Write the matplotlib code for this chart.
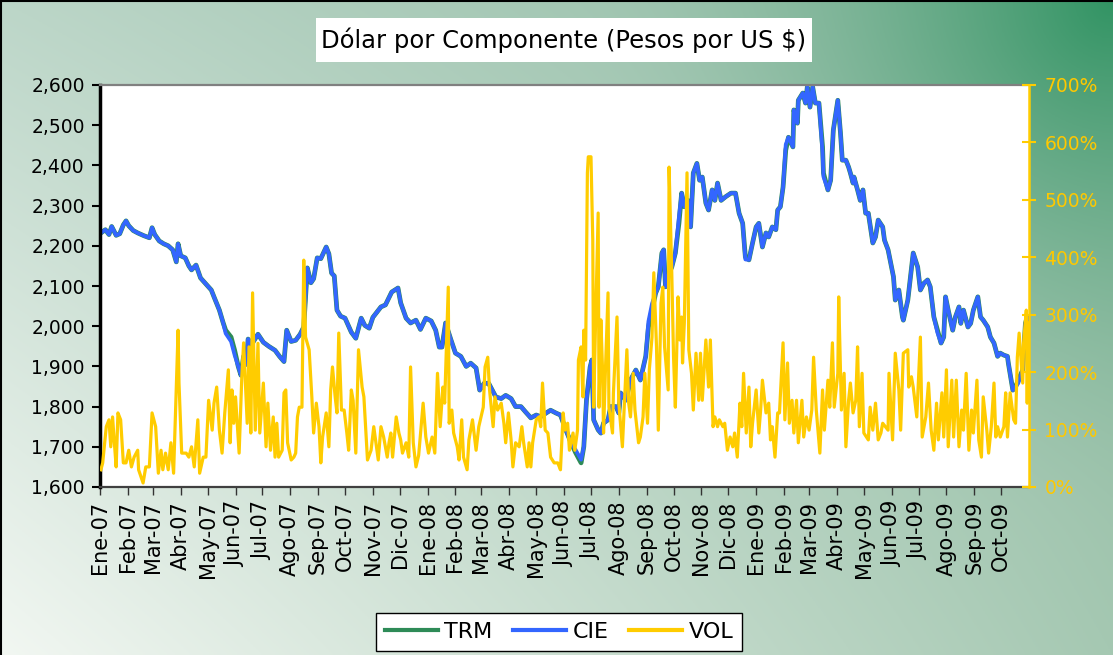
import numpy as np
import pandas as pd
import matplotlib
matplotlib.use("Agg")
import matplotlib.pyplot as plt
from matplotlib.ticker import FuncFormatter, MultipleLocator
from matplotlib.patches import Rectangle
from matplotlib.lines import Line2D

# ---------------- data ----------------
title = "Dólar por Componente (Pesos por US $)"
start_date = "2007-01-01"
end_date = "2009-11-01"
series_names = ["TRM", "CIE", "VOL"]

month_labels = ["Ene-07", "Feb-07", "Mar-07", "Abr-07", "May-07", "Jun-07", "Jul-07", "Ago-07",
                "Sep-07", "Oct-07", "Nov-07", "Dic-07", "Ene-08", "Feb-08", "Mar-08", "Abr-08",
                "May-08", "Jun-08", "Jul-08", "Ago-08", "Sep-08", "Oct-08", "Nov-08", "Dic-08",
                "Ene-09", "Feb-09", "Mar-09", "Abr-09", "May-09", "Jun-09", "Jul-09", "Ago-09",
                "Sep-09", "Oct-09"]

# days since 2007-01-01
trm_day = [1,6,10,13,18,22,26,29,32,37,42,49,55,58,61,66,71,76,81,85,
           87,90,95,99,102,107,112,118,124,127,133,137,140,146,150,154,157,160,163,165,
           169,176,182,188,195,200,205,208,213,218,223,227,231,235,238,242,246,252,255,258,
           261,264,268,273,280,285,291,295,300,304,313,318,325,332,335,341,346,352,357,363,
           369,374,378,381,385,391,396,402,408,413,419,423,428,433,441,447,452,458,463,469,
           474,480,486,491,497,502,508,513,519,525,530,536,539,542,546,548,550,555,558,561,
           566,569,575,578,580,586,591,597,602,608,611,615,619,622,626,628,630,634,637,641,
           645,648,651,655,658,661,665,668,671,675,678,682,685,688,692,697,703,708,712,716,
           719,723,727,731,734,738,742,745,749,753,755,758,761,764,767,772,773,777,778,783,
           786,788,791,794,797,801,805,806,811,814,817,822,825,827,831,834,836,839,840,844,
           847,850,853,856,861,864,867,872,874,878,884,886,890,894,895,900,903,906,911,914,
           918,922,925,929,933,937,940,942,945,950,953,957,959,962,967,970,973,978,981,984,
           989,992,996,1000,1003,1007,1011,1012,1017,1020,1023,1028,1031,1033,1034]

trm = [2232,2240,2228,2248,2226,2230,2252,2262,2250,2238,
       2232,2225,2220,2245,2228,2212,2205,2200,2190,2160,
       2205,2175,2170,2150,2140,2152,2120,2105,2090,2073,
       2040,2010,1990,1973,1940,1900,1878,1925,1905,1968,
       1955,1980,1960,1950,1940,1925,1912,1990,1962,1965,
       1980,1998,2145,2108,2118,2170,2168,2197,2180,2132,
       2125,2040,2025,2020,1985,1970,2020,2002,1995,2022,
       2048,2053,2085,2095,2058,2020,2008,2015,1992,2020,
       2013,1990,1948,1948,2008,1966,1933,1925,1900,1908,
       1896,1841,1858,1858,1824,1820,1828,1820,1800,1800,
       1787,1772,1779,1775,1784,1791,1784,1779,1742,1709,
       1685,1660,1700,1816,1898,1916,1767,1742,1734,1759,
       1767,1800,1800,1784,1834,1816,1866,1891,1866,1925,
       1998,2040,2082,2098,2182,2190,2098,2132,2147,2182,
       2256,2331,2297,2313,2247,2381,2405,2363,2371,2306,
       2289,2339,2313,2356,2313,2322,2331,2331,2281,2256,
       2172,2165,2207,2247,2256,2197,2232,2222,2247,2240,
       2289,2297,2346,2438,2470,2446,2538,2505,2562,2580,
       2555,2595,2545,2595,2555,2555,2446,2381,2339,2363,
       2488,2562,2480,2413,2413,2396,2381,2356,2371,2339,
       2313,2339,2281,2281,2207,2222,2264,2247,2214,2190,
       2123,2065,2090,2023,2015,2065,2123,2182,2147,2090,
       2107,2115,2098,2023,1990,1958,1973,2073,2040,1990,
       2023,2048,2007,2040,1998,2007,2040,2073,2023,2015,
       1998,1973,1958,1925,1933,1928,1925,1908,1841,1849,
       1866,1891,2007,2023,1998]

cie = [2232,2240,2228,2248,2226,2230,2252,2262,2250,2238,
       2232,2225,2220,2245,2228,2212,2205,2200,2190,2160,
       2205,2175,2170,2150,2140,2152,2120,2105,2090,2073,
       2040,2010,1982,1962,1928,1900,1878,1925,1905,1968,
       1955,1980,1960,1950,1940,1925,1912,1990,1962,1965,
       1980,1998,2145,2108,2118,2170,2168,2197,2180,2132,
       2125,2040,2025,2020,1985,1970,2020,2002,1995,2022,
       2048,2053,2085,2095,2058,2020,2008,2015,1992,2020,
       2013,1990,1948,1948,2008,1966,1933,1925,1900,1908,
       1896,1841,1858,1858,1824,1820,1828,1820,1800,1800,
       1787,1772,1779,1775,1784,1791,1784,1779,1742,1709,
       1692,1668,1700,1816,1898,1916,1767,1742,1734,1759,
       1767,1800,1800,1784,1834,1816,1866,1891,1866,1925,
       2012,2056,2082,2098,2182,2190,2098,2132,2147,2182,
       2272,2331,2297,2313,2247,2381,2405,2363,2371,2306,
       2289,2339,2313,2356,2313,2322,2331,2331,2281,2256,
       2166,2165,2207,2247,2256,2197,2232,2222,2247,2240,
       2289,2297,2346,2452,2470,2446,2538,2505,2562,2580,
       2555,2595,2545,2595,2555,2555,2432,2372,2339,2363,
       2488,2562,2480,2413,2413,2396,2381,2356,2371,2339,
       2313,2339,2281,2281,2207,2222,2264,2247,2214,2190,
       2123,2065,2090,2023,2015,2065,2123,2182,2147,2090,
       2107,2115,2098,2023,1984,1958,1973,2073,2040,1990,
       2023,2048,2007,2040,1998,2007,2040,2073,2023,2015,
       1998,1973,1958,1925,1933,1928,1925,1908,1841,1849,
       1858,1891,2007,2023,1998]

vol_day = [1,3,7,10,12,14,16,18,20,23,26,29,32,35,38,42,43,48,51,55,
           58,62,65,68,70,73,76,79,82,87,88,91,96,99,102,105,109,111,115,118,
           121,125,127,130,133,136,139,143,145,147,149,151,155,158,160,164,166,168,170,173,
           176,178,182,185,187,190,193,195,197,199,203,205,207,209,213,216,218,220,222,225,
           227,229,233,236,238,241,244,246,248,252,255,257,259,262,264,266,269,272,275,277,
           280,282,285,288,292,294,298,302,305,310,313,316,320,322,324,326,330,333,335,337,
           341,344,346,349,352,355,360,363,366,370,373,376,379,382,384,388,389,392,394,398,
           400,403,405,409,411,415,419,422,427,429,432,434,438,440,443,447,450,452,455,458,
           460,463,467,470,472,476,478,480,482,486,489,491,493,496,499,502,506,510,513,516,
           518,521,523,527,529,532,533,536,538,539,541,543,544,547,549,550,552,555,556,558,
           560,561,563,566,567,571,572,576,578,582,584,587,589,591,594,596,600,602,605,607,
           610,612,615,617,620,622,625,627,629,633,634,637,639,641,644,646,648,649,651,654,
           656,659,661,664,667,669,671,675,678,680,683,685,688,690,694,696,699,702,705,707,
           710,713,715,717,720,723,725,727,731,734,736,738,742,745,747,749,752,755,757,761,
           763,766,768,771,773,776,778,782,784,787,790,793,795,798,802,805,807,811,813,816,
           818,822,823,826,829,831,834,836,839,842,844,846,849,851,854,856,858,861,864,867,
           870,872,878,879,883,886,890,892,895,900,901,904,906,910,912,914,916,920,923,926,
           929,932,934,938,940,943,945,949,951,954,957,960,962,965,968,971,973,977,979,982,
           984,988,990,993,996,998,1000,1003,1007,1009,1011,1014,1018,1020,1022,1024,1028,1029,1032,1033,
           1034]

# percent
vol = [30,42,105,117,70,122,77,35,129,117,42,42,64,35,52,64,30,7,35,35,
       129,105,24,64,30,59,30,77,24,273,181,59,59,52,70,35,117,24,52,52,
       151,99,146,174,99,59,129,204,77,169,111,157,59,192,251,111,244,94,338,99,
       250,94,181,70,146,64,122,52,111,52,64,164,169,77,47,52,59,122,139,139,
       395,261,239,157,94,146,105,42,87,129,70,169,209,157,129,268,134,134,94,64,
       169,151,59,239,174,157,47,64,105,47,105,87,52,77,94,52,122,94,82,59,
       77,52,209,77,35,55,146,87,59,87,59,198,105,174,146,348,111,134,94,70,
       47,117,52,30,82,117,64,105,139,209,226,169,105,157,134,146,111,77,129,82,
       35,77,70,105,77,35,77,35,77,117,122,105,181,99,94,52,42,42,30,129,
       99,111,64,94,64,99,221,244,157,273,221,547,575,575,430,139,279,477,139,291,
       198,94,198,338,139,94,164,296,146,70,139,239,146,122,198,134,77,87,122,198,
       111,204,261,373,244,99,320,348,244,169,557,373,226,139,331,256,296,216,286,547,
       239,198,134,233,151,233,151,256,174,256,105,122,105,117,105,111,64,87,70,94,
       52,146,105,198,94,174,70,111,169,94,134,186,129,146,82,105,52,129,129,251,
       117,216,111,151,94,151,77,151,87,122,99,134,226,134,59,169,99,186,139,251,
       139,198,331,134,198,70,151,181,129,151,244,105,198,94,87,82,139,99,146,82,
       94,111,99,198,82,233,169,99,233,239,174,192,174,122,192,261,87,122,181,99,
       64,146,82,164,87,204,70,186,87,186,70,134,99,198,64,134,94,186,82,52,
       157,99,59,105,181,87,105,87,105,164,87,164,117,111,226,268,181,251,308,146,
       286]

assert len(trm_day) == len(trm) == len(cie), (len(trm_day), len(trm), len(cie))
assert len(vol_day) == len(vol), (len(vol_day), len(vol))

# ---------------- styles ----------------
W, H = 1113, 655
C_TRM = "#2E8B57"
C_CIE = "#3366FF"
C_VOL = "#FFCC00"
C_VOL_TXT = "#FFC800"
FS_TICK = 13.5
FS_XTICK = 15

t0 = pd.Timestamp(start_date)
trm_dates = t0 + pd.to_timedelta(trm_day, unit="D")
vol_dates = t0 + pd.to_timedelta(vol_day, unit="D")
tick_dates = pd.date_range(start_date, periods=len(month_labels), freq="MS")

fig = plt.figure(figsize=(W / 100, H / 100), dpi=100)

# gradient background
gx = np.linspace(0, 1, 400)[None, :]
gy = np.linspace(0, 1, 240)[:, None]
TL = np.array([188, 214, 200]) / 255
TR = np.array([140, 185, 160]) / 255
BL = np.array([242, 247, 242]) / 255
BR = np.array([165, 200, 178]) / 255
DARK = np.array([50, 148, 100]) / 255
light = ((1 - gx) * (1 - gy))[..., None] * TL + (gx * (1 - gy))[..., None] * TR \
    + ((1 - gx) * gy)[..., None] * BL + (gx * gy)[..., None] * BR
d = np.sqrt(((1 - gx) * W) ** 2 + (gy * H) ** 2)
w = np.clip(1 - d / 550.0, 0, 1) ** 2
grad = light * (1 - w[..., None]) + DARK * w[..., None]
bg = fig.add_axes([0, 0, 1, 1], zorder=-10)
bg.imshow(grad, aspect="auto", extent=[0, 1, 0, 1], origin="upper")
bg.set_axis_off()

# black frame on left and top
fig.add_artist(Line2D([0.0009, 0.0009], [0, 1], transform=fig.transFigure, color="black", lw=1.5))
fig.add_artist(Line2D([0, 1], [0.9985, 0.9985], transform=fig.transFigure, color="black", lw=1.5))

# main axes
L, R, T, B = 100, 1029, 85, 487
ax = fig.add_axes([L / W, 1 - B / H, (R - L) / W, (B - T) / H])
ax.set_facecolor("white")
ax.plot(trm_dates, trm, color=C_TRM, lw=3.4, solid_joinstyle="round")
ax.plot(trm_dates, cie, color=C_CIE, lw=2.7, solid_joinstyle="round")
ax.set_xlim(t0, pd.Timestamp(end_date))
ax.set_ylim(1600, 2600)
ax.yaxis.set_major_locator(MultipleLocator(100))
ax.yaxis.set_major_formatter(FuncFormatter(lambda v, p: f"{v:,.0f}"))
ax.set_xticks(tick_dates)
ax.set_xticklabels(month_labels, rotation=90, fontsize=FS_XTICK)
ax.tick_params(axis="y", labelsize=FS_TICK, length=6, width=1.5, direction="out",
               color="black", pad=5)
ax.tick_params(axis="x", length=6, width=1.0, direction="out", color="#333333", pad=4)
ax.spines["left"].set_color("black")
ax.spines["left"].set_linewidth(2.5)
ax.spines["top"].set_color("#808080")
ax.spines["top"].set_linewidth(1.6)
ax.spines["bottom"].set_color("#404040")
ax.spines["bottom"].set_linewidth(1.6)
ax.spines["right"].set_visible(False)

ax2 = ax.twinx()
ax2.plot(vol_dates, vol, color=C_VOL, lw=2.3, solid_joinstyle="round")
ax2.set_ylim(0, 700)
ax2.yaxis.set_major_locator(MultipleLocator(100))
ax2.yaxis.set_major_formatter(FuncFormatter(lambda v, p: f"{v:.0f}%"))
ax2.tick_params(axis="y", labelsize=FS_TICK, length=10, width=1.5, direction="inout",
                color=C_VOL, labelcolor=C_VOL_TXT, pad=6)
for s in ["left", "top", "bottom"]:
    ax2.spines[s].set_visible(False)
ax2.spines["right"].set_color(C_VOL)
ax2.spines["right"].set_linewidth(1.8)

# title box
fig.add_artist(Rectangle((316 / W, 1 - 62 / H), 496 / W, 44 / H, transform=fig.transFigure,
                         facecolor="white", edgecolor="none", zorder=5))
fig.text(564 / W, 1 - 40 / H, title, ha="center", va="center", fontsize=17.5, color="black",
         zorder=6)

# legend
handles = [Line2D([], [], color=C_TRM, lw=3),
           Line2D([], [], color=C_CIE, lw=3),
           Line2D([], [], color=C_VOL, lw=3)]
leg = fig.legend(handles, series_names, loc="center", bbox_to_anchor=(559 / W, 1 - 632 / H),
                 ncol=3, frameon=True, fancybox=False, edgecolor="black", facecolor="white",
                 framealpha=1, fontsize=16, handlelength=2.4, handletextpad=0.3,
                 columnspacing=0.9, borderpad=0.4)
leg.get_frame().set_linewidth(1.0)

fig.savefig("out.png", dpi=100)
